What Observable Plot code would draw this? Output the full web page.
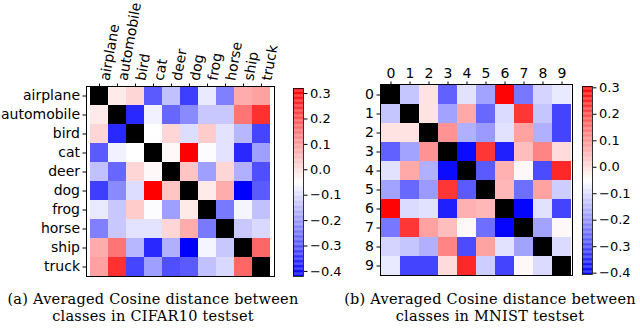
<!DOCTYPE html>
<html>
<head>
<meta charset="utf-8">
<script src="https://cdn.jsdelivr.net/npm/d3@7"></script>
<script src="https://cdn.jsdelivr.net/npm/@observablehq/plot@0.6"></script>
<style>
  html, body { margin: 0; padding: 0; background: white; }
  #root { position: relative; width: 640px; height: 328px; overflow: hidden; background: white; }
  .abs { position: absolute; }
  .cap { position: absolute; font-family: "DejaVu Serif", serif; font-size: 14.5px; letter-spacing: 0.25px; line-height: 17px; text-align: center; color: black; white-space: nowrap; }
</style>
</head>
<body>
<div id="root"></div>
<script>
const cifarClasses = ["airplane","automobile","bird","cat","deer","dog","frog","horse","ship","truck"];
const cifarValues = [
  [null, -0.02, 0.01, -0.29, -0.14, -0.33, -0.08, -0.235, 0.07, 0.087],
  [-0.02, null, -0.36, -0.07, -0.27, -0.22, -0.13, -0.13, 0.15, 0.25],
  [0.01, -0.36, null, -0.05, 0.01, -0.10, 0.025, -0.09, -0.155, -0.32],
  [-0.29, -0.07, -0.05, null, -0.04, 0.32, -0.055, -0.09, -0.36, -0.19],
  [-0.14, -0.27, 0.01, -0.04, null, 0.035, -0.19, 0.01, -0.165, -0.305],
  [-0.33, -0.22, -0.10, 0.32, 0.035, null, -0.02, 0.07, -0.42, -0.29],
  [-0.08, -0.13, 0.025, -0.055, -0.19, -0.02, null, -0.245, -0.065, -0.14],
  [-0.235, -0.13, -0.09, -0.09, 0.01, 0.07, -0.245, null, -0.13, -0.105],
  [0.07, 0.15, -0.155, -0.36, -0.165, -0.42, -0.065, -0.13, null, 0.17],
  [0.087, 0.25, -0.32, -0.19, -0.305, -0.29, -0.14, -0.105, 0.17, null]
];
const cifarRange = [-0.42, 0.32];

const mnistClasses = ["0","1","2","3","4","5","6","7","8","9"];
const mnistValues = [
  [null, -0.13, -0.01, -0.27, -0.09, -0.18, 0.30, -0.24, -0.11, -0.08],
  [-0.13, null, -0.01, -0.18, 0.07, -0.26, -0.10, 0.23, -0.13, -0.31],
  [-0.01, -0.01, null, 0.10, -0.16, -0.19, -0.09, 0.08, -0.16, -0.31],
  [-0.27, -0.18, 0.10, null, -0.39, 0.23, -0.36, 0.04, 0.12, 0.00],
  [-0.09, 0.07, -0.16, -0.39, null, -0.28, 0.06, -0.04, -0.30, 0.25],
  [-0.18, -0.26, -0.19, 0.23, -0.28, null, 0.05, -0.25, 0.08, -0.12],
  [0.30, -0.10, -0.09, -0.36, 0.06, 0.05, null, -0.40, -0.09, -0.31],
  [-0.24, 0.23, 0.08, 0.04, -0.04, -0.25, -0.40, null, -0.18, -0.04],
  [-0.11, -0.13, -0.16, 0.12, -0.30, 0.08, -0.09, -0.18, null, -0.10],
  [-0.08, -0.31, -0.31, 0.00, 0.25, -0.12, -0.31, -0.04, -0.10, null]
];
const mnistRange = [-0.405, 0.305];

const colorbarTicks = [0.3, 0.2, 0.1, 0.0, -0.1, -0.2, -0.3, -0.4];
const captionA = ["(a) Averaged Cosine distance between", "classes in CIFAR10 testset"];
const captionB = ["(b) Averaged Cosine distance between", "classes in MNIST testset"];

const FONT = "DejaVu Sans, sans-serif";

function colorScale(range) {
  return {type: "linear", domain: [range[0], (range[0] + range[1]) / 2, range[1]], range: ["blue", "white", "red"], interpolate: "rgb"};
}

function heatmap({classes, values, range, width, height, ml, mr, mt, mb, rotated}) {
  const cells = [];
  values.forEach((row, i) => row.forEach((v, j) => cells.push({row: classes[i], col: classes[j], v})));
  return Plot.plot({
    width, height, marginLeft: ml, marginRight: mr, marginTop: mt, marginBottom: mb,
    style: {fontFamily: FONT, fontSize: "14px", color: "black", background: "transparent", overflow: "visible"},
    x: {domain: classes, axis: "top", padding: 0, tickSize: 3.5, tickPadding: 3, label: null, tickFormat: rotated ? () => "" : undefined},
    y: {domain: classes, padding: 0, tickSize: 3.5, tickPadding: 3, label: null},
    color: colorScale(range),
    marks: [
      Plot.cell(cells, {x: "col", y: "row", fill: "v", inset: 0}),
      Plot.cell(cells.filter(d => d.v == null), {x: "col", y: "row", fill: "black", inset: 0}),
      rotated ? Plot.text(classes, {x: d => d, frameAnchor: "top", dy: -7, rotate: -80, textAnchor: "start", fontSize: 14, fill: "black"}) : null,
      Plot.frame({stroke: "black", strokeWidth: 1})
    ]
  });
}

function colorbar({range, width, height, ml, mr, mt, mb}) {
  const n = 150;
  const step = (range[1] - range[0]) / n;
  const steps = d3.range(n).map(i => range[0] + i * step);
  return Plot.plot({
    width, height, marginLeft: ml, marginRight: mr, marginTop: mt, marginBottom: mb,
    style: {fontFamily: FONT, fontSize: "13px", color: "black", background: "transparent", overflow: "visible"},
    x: {axis: null, domain: [0, 1]},
    y: {domain: range, ticks: colorbarTicks, tickFormat: d3.format(".1f"), axis: "right", tickSize: 3.5, tickPadding: 3, label: null},
    color: colorScale(range),
    marks: [
      Plot.rect(steps, {x1: 0, x2: 1, y1: d => d, y2: d => d + step * 1.02, fill: d => d + step / 2}),
      Plot.frame({stroke: "black", strokeWidth: 0.8})
    ]
  });
}

const root = document.getElementById("root");
function place(node, left, top) {
  node.classList.add("abs");
  node.style.left = left + "px";
  node.style.top = top + "px";
  root.appendChild(node);
}

place(heatmap({classes: cifarClasses, values: cifarValues, range: cifarRange, width: 280, height: 280, ml: 86, mr: 6, mt: 86, mb: 4, rotated: true}), 0, 0);
place(colorbar({range: cifarRange, width: 60, height: 280, ml: 13, mr: 37, mt: 88, mb: 4}), 280, 0);
place(heatmap({classes: mnistClasses, values: mnistValues, range: mnistRange, width: 240, height: 280, ml: 40, mr: 8, mt: 84, mb: 5, rotated: false}), 340, 0);
place(colorbar({range: mnistRange, width: 68, height: 280, ml: 10, mr: 48, mt: 86, mb: 6}), 572, 0);

function caption(lines, left, width) {
  const div = document.createElement("div");
  div.className = "cap";
  div.style.left = left + "px";
  div.style.top = "291px";
  div.style.width = width + "px";
  div.innerHTML = lines.map(l => `<div>${l}</div>`).join("");
  root.appendChild(div);
}
caption(captionA, 0, 306);
caption(captionB, 337, 306);
</script>
</body>
</html>
